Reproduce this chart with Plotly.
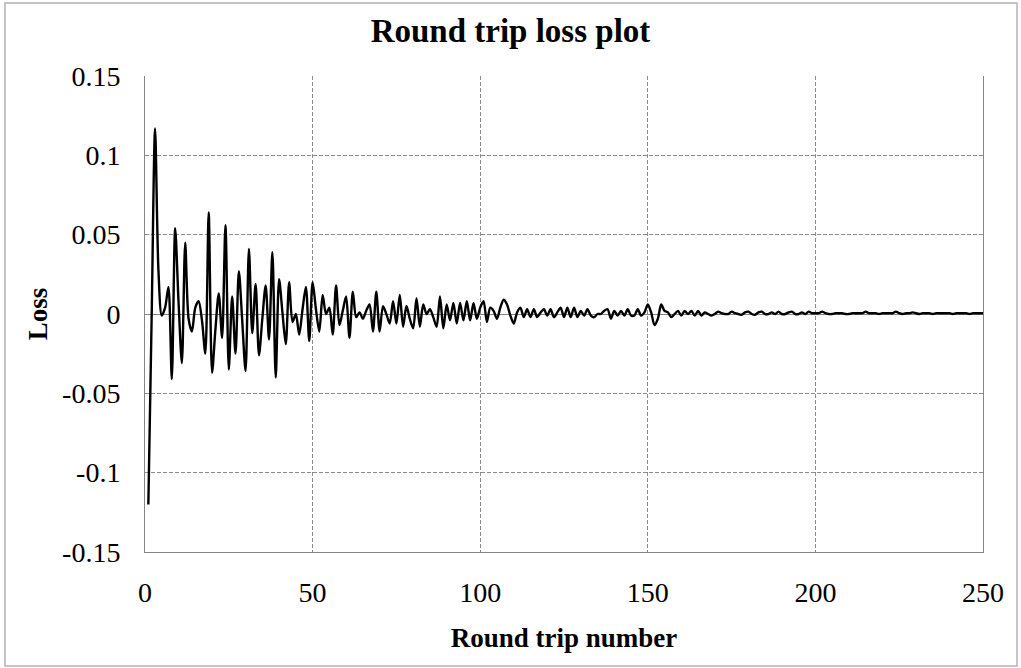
import plotly.graph_objects as go

# Round trip index (x) and computed loss per round trip (y)
round_trip = list(range(1, 251))
loss = [
    -0.120, 0.000, 0.117, 0.028, -0.001, 0.004, 0.017, -0.041, 0.054, 0.008,
    -0.031, 0.045, -0.003, -0.011, 0.004, 0.008, -0.004, -0.025, 0.064, -0.037,
    -0.010, 0.013, -0.015, 0.056, -0.035, 0.011, -0.025, 0.027, -0.004, -0.036,
    0.041, -0.012, 0.019, -0.026, -0.003, 0.018, -0.016, 0.039, -0.040, 0.022,
    0.001, -0.019, 0.020, -0.005, 0.000, -0.013, 0.003, 0.017, -0.017, 0.020,
    0.003, -0.011, 0.012, 0.000, 0.004, -0.013, 0.018, -0.007, 0.002, 0.011,
    -0.015, 0.014, -0.002, 0.001, -0.003, 0.002, 0.006, -0.011, 0.014, -0.011,
    0.005, 0.000, -0.006, 0.008, -0.006, 0.012, -0.008, 0.005, -0.003, -0.009,
    0.010, -0.008, 0.006, 0.000, 0.003, -0.002, -0.008, 0.011, -0.009, 0.006,
    -0.004, 0.007, -0.006, 0.007, -0.004, 0.008, -0.004, 0.007, -0.003, 0.004,
    0.008, -0.005, 0.004, 0.002, -0.003, 0.004, 0.009, 0.006, -0.001, -0.006,
    0.001, 0.004, -0.002, 0.003, -0.002, 0.003, -0.002, 0.001, 0.003, -0.001,
    0.003, -0.002, 0.001, 0.004, -0.002, 0.004, -0.002, 0.004, -0.002, 0.002,
    -0.001, 0.003, -0.001, -0.002, 0.000, 0.000, 0.002, 0.003, -0.003, 0.002,
    -0.001, 0.002, -0.001, 0.003, -0.001, -0.001, 0.003, -0.001, 0.001, 0.006,
    0.001, -0.007, -0.003, 0.006, 0.002, 0.001, -0.002, 0.000, 0.002, -0.001,
    0.002, 0.000, 0.002, -0.001, 0.002, -0.001, 0.001, 0.000, -0.001, 0.000,
    0.0015, 0.0005, 0.000, 0.000, 0.0015, 0.0005, 0.000, -0.0005, 0.001, 0.0015,
    0.000, -0.0005, 0.001, 0.0015, 0.000, 0.000, 0.001, 0.000, 0.0015, 0.000,
    0.000, 0.001, 0.0015, 0.000, 0.000, 0.001, 0.000, 0.0015, 0.0005, 0.0005,
    0.0005, 0.0015, 0.0005, 0.000, 0.000, 0.0005, 0.0005, 0.0005, 0.000, 0.000,
    0.0005, 0.0005, 0.0005, 0.0005, 0.0015, 0.0005, 0.0005, 0.0005, 0.000, 0.0005,
    0.0005, 0.0005, 0.0005, 0.0015, 0.0005, 0.000, 0.0005, 0.0005, 0.001, 0.0005,
    0.000, 0.0005, 0.0005, 0.0005, 0.000, 0.0005, 0.0005, 0.0005, 0.0005, 0.0005,
    0.000, 0.0005, 0.0005, 0.0005, 0.0005, 0.000, 0.0005, 0.0005, 0.0005, 0.0005,
]

x_ticks = [0, 50, 100, 150, 200, 250]
x_tick_labels = ["0", "50", "100", "150", "200", "250"]
y_ticks = [-0.15, -0.1, -0.05, 0, 0.05, 0.1, 0.15]
y_tick_labels = ["-0.15", "-0.1", "-0.05", "0", "0.05", "0.1", "0.15"]

FONT = "Liberation Serif"
GRID = "#8c8c8c"
AXIS = "#868686"

fig = go.Figure(
    go.Scatter(
        x=round_trip,
        y=loss,
        mode="lines",
        line=dict(color="black", width=2.4, shape="spline", smoothing=0.8),
        hoverinfo="x+y",
    )
)

fig.update_layout(
    width=1021,
    height=668,
    margin=dict(l=145, r=38, t=76, b=116),
    paper_bgcolor="white",
    plot_bgcolor="white",
    showlegend=False,
    font=dict(family=FONT, color="black", size=28),
    title=dict(
        text="<b>Round trip loss plot</b>",
        font=dict(family=FONT, size=33, color="black"),
        x=0.5,
        xref="container",
        xanchor="center",
        y=0.955,
        yref="container",
        yanchor="middle",
    ),
    shapes=[
        # outer chart frame
        dict(
            type="rect",
            xref="paper",
            yref="paper",
            x0=-0.1671,
            x1=1.0406,
            y0=-0.2395,
            y1=1.1534,
            line=dict(color="#b3b3b3", width=1.5),
            fillcolor="rgba(0,0,0,0)",
            layer="below",
        )
    ],
)

fig.update_xaxes(
    range=[0, 250],
    tickvals=x_ticks,
    ticktext=x_tick_labels,
    showgrid=True,
    gridcolor=GRID,
    gridwidth=1,
    griddash="4px,2px",
    showline=True,
    linecolor=AXIS,
    linewidth=1,
    zeroline=False,
    ticks="",
    ticklabelstandoff=15,
    tickfont=dict(family=FONT, size=28, color="black"),
    title=dict(
        text="<b>Round trip number</b>",
        font=dict(family=FONT, size=27, color="black"),
        standoff=21,
    ),
)

fig.update_yaxes(
    range=[-0.15, 0.15],
    tickvals=y_ticks,
    ticktext=y_tick_labels,
    showgrid=True,
    gridcolor=GRID,
    gridwidth=1,
    griddash="4px,2px",
    showline=True,
    mirror=True,
    linecolor=AXIS,
    linewidth=1,
    zeroline=True,
    zerolinecolor=AXIS,
    zerolinewidth=1,
    ticks="",
    ticklabelstandoff=18,
    tickfont=dict(family=FONT, size=28, color="black"),
    title=dict(
        text="<b>Loss</b>",
        font=dict(family=FONT, size=27, color="black"),
        standoff=6,
    ),
)

fig.write_html("out.html")
